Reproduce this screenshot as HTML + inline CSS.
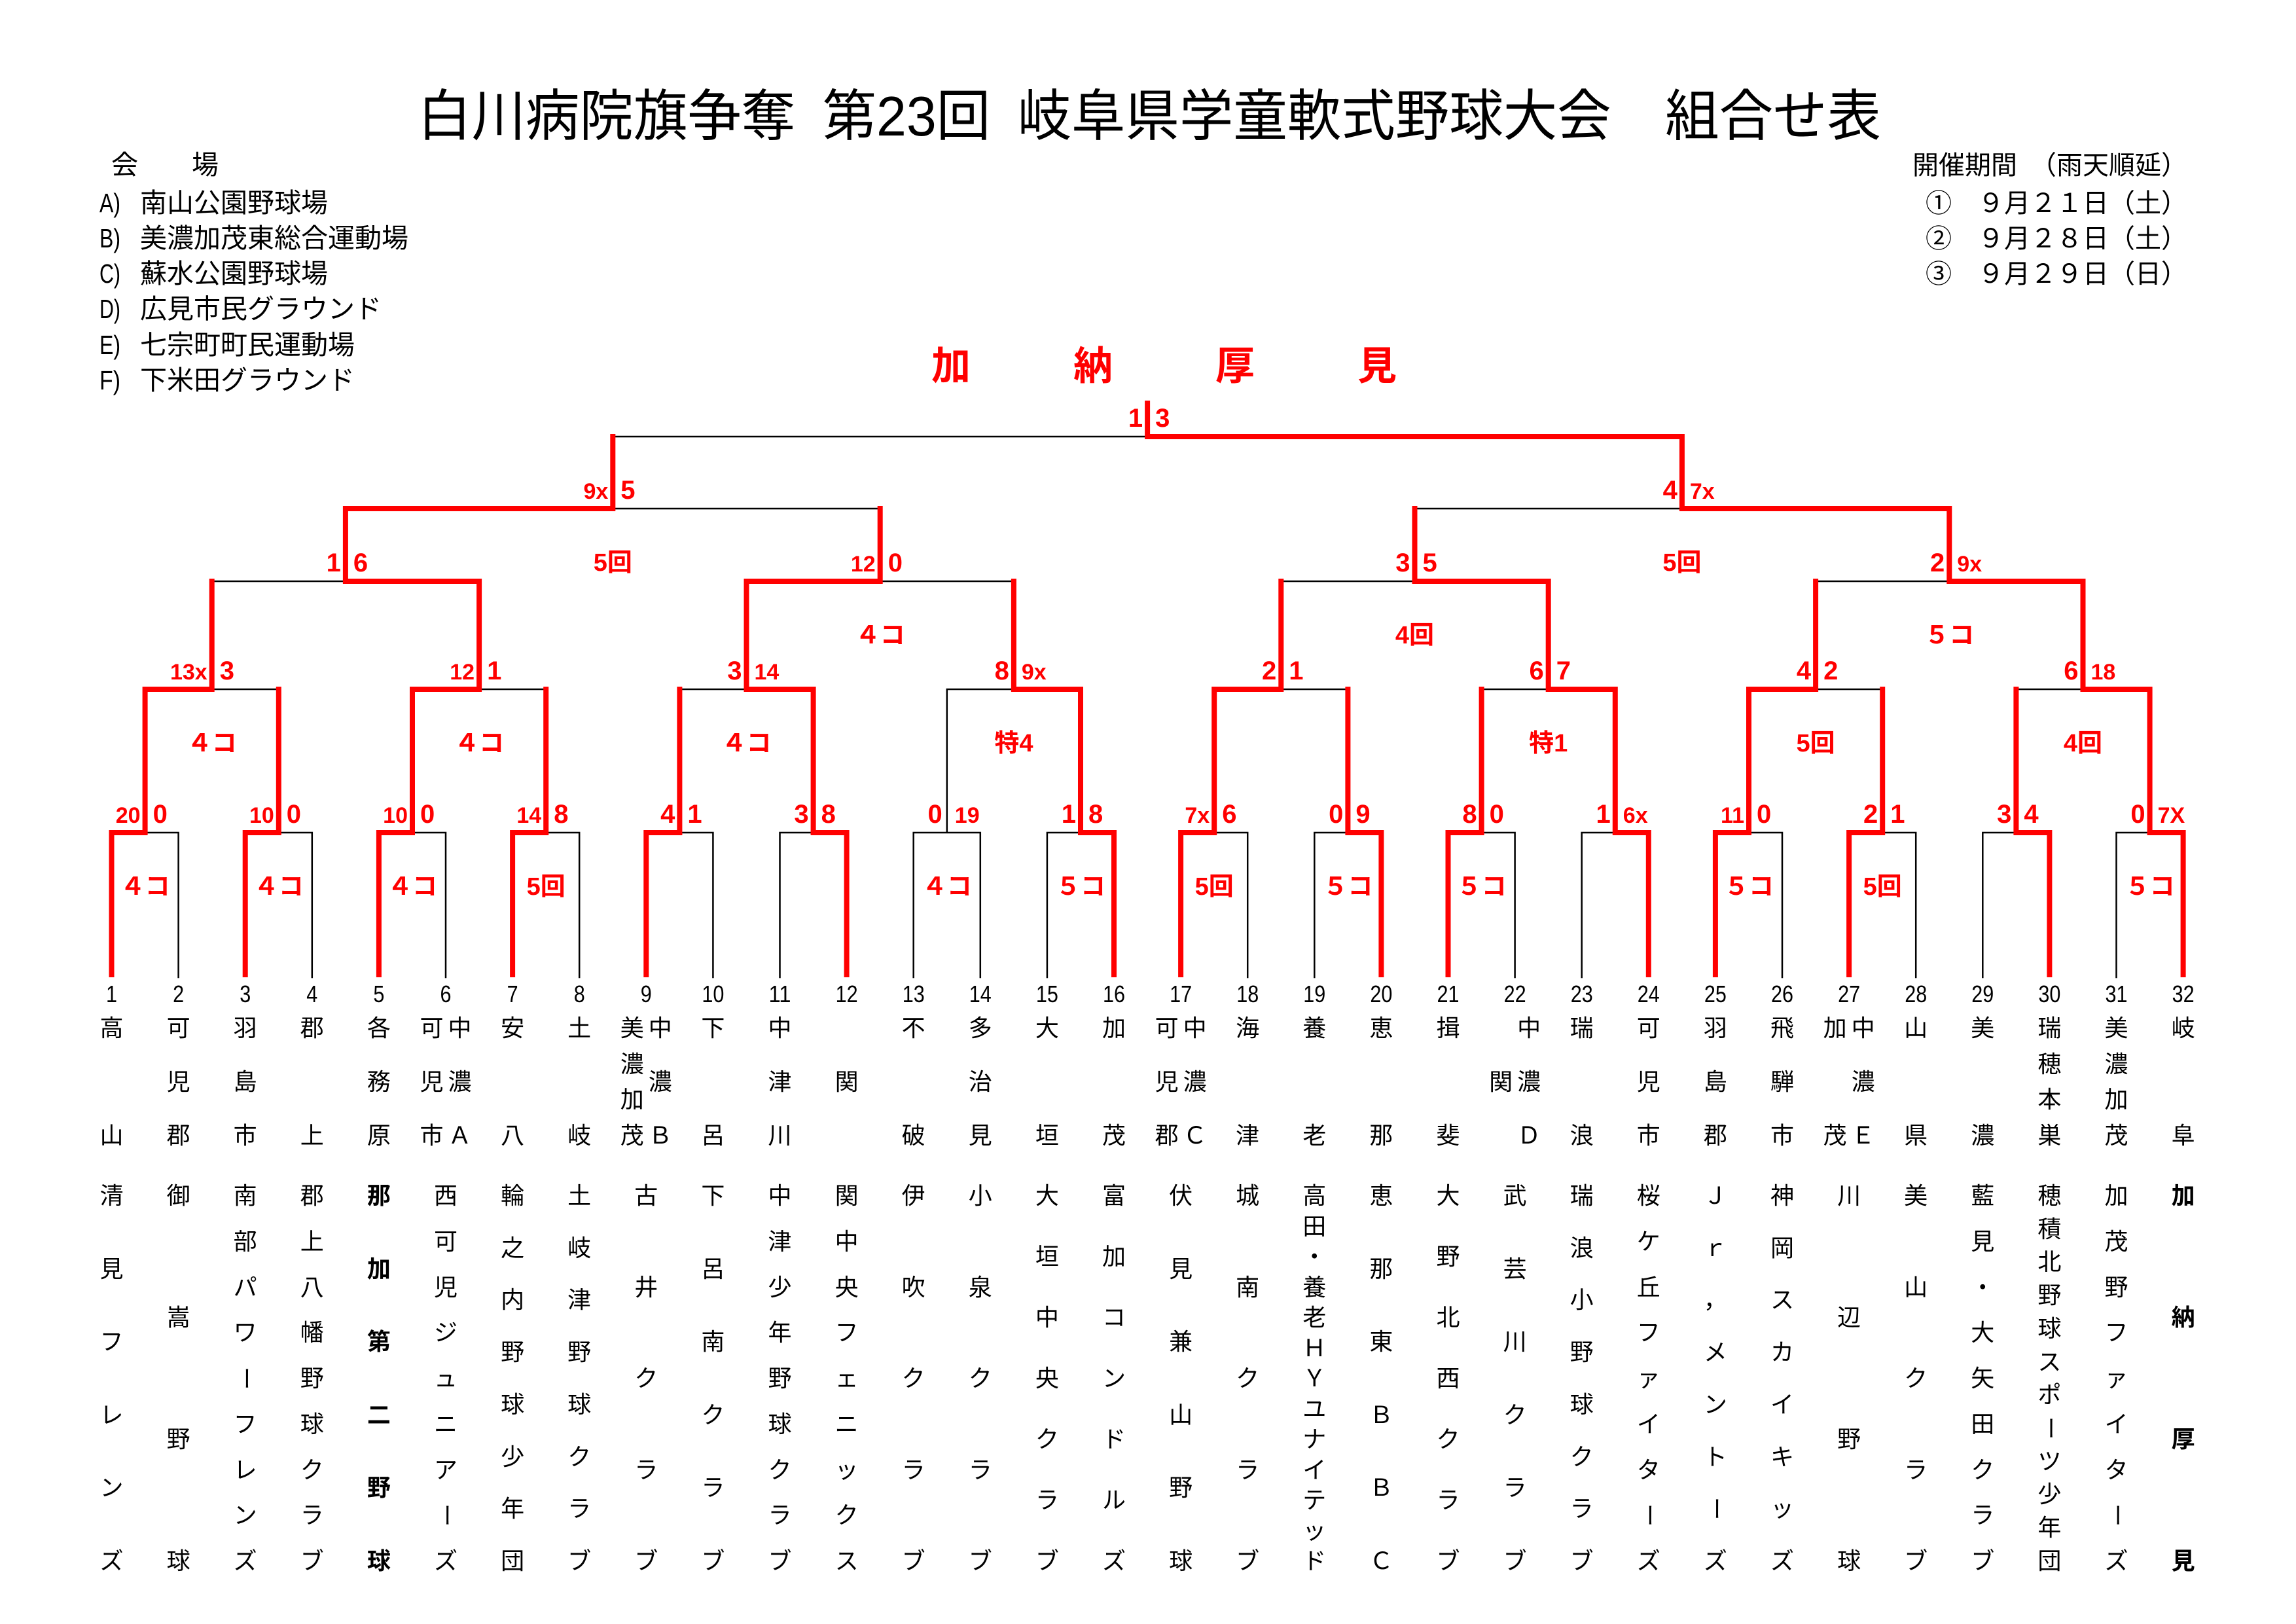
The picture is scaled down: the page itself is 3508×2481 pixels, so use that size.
<!DOCTYPE html>
<html lang="ja">
<head>
<meta charset="utf-8">
<style>
body{margin:0;background:#fff;}
#p{position:relative;width:3508px;height:2481px;overflow:hidden;background:#fff;font-family:"Liberation Sans","Noto Sans CJK JP",sans-serif;}
svg{position:absolute;left:0;top:0;}
svg text{font-family:"Liberation Sans","Noto Sans CJK JP",sans-serif;white-space:pre;}
.s{font-weight:bold;font-size:40px;fill:#f00}
.s2{font-weight:bold;font-size:34px;fill:#f00}
.e{text-anchor:end}
.lb{font-weight:bold;font-size:38px;fill:#f00;text-anchor:middle}
.num{font-size:36px;fill:#000}
.ch{font-weight:bold;font-size:60px;fill:#f00;text-anchor:middle}
.hd{font-size:41px;fill:#000}
.dt{font-size:40px;fill:#000}
.c{position:absolute;width:40px;display:flex;flex-direction:column;justify-content:space-between;align-items:center;font-size:36px;line-height:36px;color:#000;font-family:"Liberation Sans","Noto Sans CJK JP",sans-serif;}
.c span{display:block;height:36px;width:40px;text-align:center;}
.c span.v{writing-mode:vertical-rl;width:36px;}
.t{top:1553px;height:200px}
.n{top:1809px;height:594px}
.m{justify-content:center}
.b{font-weight:bold}
</style>
</head>
<body>
<div id="p">
<svg width="3508" height="2481" viewBox="0 0 3508 2481" xmlns="http://www.w3.org/2000/svg">
<!-- title -->
<text x="638" y="207" font-size="85" textLength="2236" lengthAdjust="spacingAndGlyphs">白川病院旗争奪&#x2002;第23回&#x2002;岐阜県学童軟式野球大会　組合せ表</text>

<!-- venues -->
<text class="hd" x="170" y="266">会　　場</text>
<text class="hd" x="152" y="324" textLength="32" lengthAdjust="spacingAndGlyphs">A)</text><text class="hd" x="214" y="324">南山公園野球場</text>
<text class="hd" x="152" y="378" textLength="32" lengthAdjust="spacingAndGlyphs">B)</text><text class="hd" x="214" y="378">美濃加茂東総合運動場</text>
<text class="hd" x="152" y="432" textLength="32" lengthAdjust="spacingAndGlyphs">C)</text><text class="hd" x="214" y="432">蘇水公園野球場</text>
<text class="hd" x="152" y="486" textLength="32" lengthAdjust="spacingAndGlyphs">D)</text><text class="hd" x="214" y="486">広見市民グラウンド</text>
<text class="hd" x="152" y="541" textLength="32" lengthAdjust="spacingAndGlyphs">E)</text><text class="hd" x="214" y="541">七宗町町民運動場</text>
<text class="hd" x="152" y="595" textLength="32" lengthAdjust="spacingAndGlyphs">F)</text><text class="hd" x="214" y="595">下米田グラウンド</text>

<!-- dates -->
<text class="dt" x="2922" y="266">開催期間　（雨天順延）</text>
<text class="dt" x="2942" y="324">①　９月２１日（土）</text>
<text class="dt" x="2942" y="378">②　９月２８日（土）</text>
<text class="dt" x="2942" y="432">③　９月２９日（日）</text>

<!-- champion -->
<text class="ch" x="1453" y="580">加</text>
<text class="ch" x="1670" y="580">納</text>
<text class="ch" x="1887" y="580">厚</text>
<text class="ch" x="2104" y="580">見</text>

<!-- black lines -->
<path fill="none" stroke="#000" stroke-width="2.5" stroke-linecap="square" d="
M272.6 1493V1272M476.8 1493V1272M681 1493V1272M885.2 1493V1272M1089.4 1493V1272M1191.5 1493V1272M1395.7 1493V1272M1497.8 1493V1272M1599.9 1493V1272M1906.2 1493V1272M2008.3 1493V1272M2314.6 1493V1272M2416.7 1493V1272M2723 1493V1272M2927.2 1493V1272M3029.3 1493V1272M3233.5 1493V1272
M221.6 1272H272.6M425.8 1272H476.8M630 1272H681M834.2 1272H885.2M1038.4 1272H1089.4M1191.5 1272H1242.6M1395.7 1272H1497.8M1599.9 1272H1651M1855.2 1272H1906.2M2008.3 1272H2059.4M2263.6 1272H2314.6M2416.7 1272H2467.8M2672 1272H2723M2876.2 1272H2927.2M3029.3 1272H3080.4M3233.5 1272H3284.6
M1446.8 1272V1053
M323.7 1053H425.8M732.1 1053H834.2M1038.4 1053H1140.5M1446.8 1053H1548.9M1957.3 1053H2059.4M2263.6 1053H2365.7M2774.1 1053H2876.2M3080.4 1053H3182.5
M323.7 888H527.9M1344.7 888H1548.9M1957.3 888H2161.5M2774.1 888H2978.3
M936.3 777H1344.7M2161.5 777H2569.9
M936.3 667H1753.1"/>

<!-- red lines -->
<path fill="none" stroke="#f00" stroke-width="8" stroke-linecap="square" d="
M170.5 1489V1272M374.7 1489V1272M578.9 1489V1272M783.1 1489V1272M987.3 1489V1272M1293.6 1489V1272M1702 1489V1272M1804.1 1489V1272M2110.4 1489V1272M2212.5 1489V1272M2518.8 1489V1272M2620.9 1489V1272M2825.1 1489V1272M3131.4 1489V1272M3335.6 1489V1272
M170.5 1272H221.6M374.7 1272H425.8M578.9 1272H630M783.1 1272H834.2M987.3 1272H1038.4M1242.6 1272H1293.6M1651 1272H1702M1804.1 1272H1855.2M2059.4 1272H2110.4M2212.5 1272H2263.6M2467.8 1272H2518.8M2620.9 1272H2672M2825.1 1272H2876.2M3080.4 1272H3131.4M3284.6 1272H3335.6
M221.6 1272V1053M425.8 1272V1053M630 1272V1053M834.2 1272V1053M1038.4 1272V1053M1242.6 1272V1053M1651 1272V1053M1855.2 1272V1053M2059.4 1272V1053M2263.6 1272V1053M2467.8 1272V1053M2672 1272V1053M2876.2 1272V1053M3080.4 1272V1053M3284.6 1272V1053
M221.6 1053H323.7M630 1053H732.1M1140.5 1053H1242.6M1548.9 1053H1651M1855.2 1053H1957.3M2365.7 1053H2467.8M2672 1053H2774.1M3182.5 1053H3284.6
M323.7 1053V888M732.1 1053V888M1140.5 1053V888M1548.9 1053V888M1957.3 1053V888M2365.7 1053V888M2774.1 1053V888M3182.5 1053V888
M527.9 888H732.1M1140.5 888H1344.7M2161.5 888H2365.7M2978.3 888H3182.5
M527.9 888V777M1344.7 888V777M2161.5 888V777M2978.3 888V777
M527.9 777H936.3M2569.9 777H2978.3
M936.3 777V667M2569.9 777V667
M1753.1 667H2569.9M1753.1 667V616"/>

<!-- round 1 scores -->
<text class="s2 e" x="214.6" y="1257">20</text><text class="s" x="233.6" y="1257">0</text>
<text class="s2 e" x="418.8" y="1257">10</text><text class="s" x="437.8" y="1257">0</text>
<text class="s2 e" x="623" y="1257">10</text><text class="s" x="642" y="1257">0</text>
<text class="s2 e" x="827.2" y="1257">14</text><text class="s" x="846.2" y="1257">8</text>
<text class="s e" x="1031.4" y="1257">4</text><text class="s" x="1050.4" y="1257">1</text>
<text class="s e" x="1235.6" y="1257">3</text><text class="s" x="1254.6" y="1257">8</text>
<text class="s e" x="1439.8" y="1257">0</text><text class="s2" x="1458.8" y="1257">19</text>
<text class="s e" x="1644" y="1257">1</text><text class="s" x="1663" y="1257">8</text>
<text class="s2 e" x="1848.2" y="1257">7x</text><text class="s" x="1867.2" y="1257">6</text>
<text class="s e" x="2052.4" y="1257">0</text><text class="s" x="2071.4" y="1257">9</text>
<text class="s e" x="2256.6" y="1257">8</text><text class="s" x="2275.6" y="1257">0</text>
<text class="s e" x="2460.8" y="1257">1</text><text class="s2" x="2479.8" y="1257">6x</text>
<text class="s2 e" x="2665" y="1257">11</text><text class="s" x="2684" y="1257">0</text>
<text class="s e" x="2869.2" y="1257">2</text><text class="s" x="2888.2" y="1257">1</text>
<text class="s e" x="3073.4" y="1257">3</text><text class="s" x="3092.4" y="1257">4</text>
<text class="s e" x="3277.6" y="1257">0</text><text class="s2" x="3296.6" y="1257">7X</text>

<!-- round 2 scores -->
<text class="s2 e" x="316.7" y="1038">13x</text><text class="s" x="335.7" y="1038">3</text>
<text class="s2 e" x="725.1" y="1038">12</text><text class="s" x="744.1" y="1038">1</text>
<text class="s e" x="1133.5" y="1038">3</text><text class="s2" x="1152.5" y="1038">14</text>
<text class="s e" x="1541.9" y="1038">8</text><text class="s2" x="1560.9" y="1038">9x</text>
<text class="s e" x="1950.3" y="1038">2</text><text class="s" x="1969.3" y="1038">1</text>
<text class="s e" x="2358.7" y="1038">6</text><text class="s" x="2377.7" y="1038">7</text>
<text class="s e" x="2767.1" y="1038">4</text><text class="s" x="2786.1" y="1038">2</text>
<text class="s e" x="3175.5" y="1038">6</text><text class="s2" x="3194.5" y="1038">18</text>

<!-- round 3 scores -->
<text class="s e" x="520.9" y="873">1</text><text class="s" x="539.9" y="873">6</text>
<text class="s2 e" x="1337.7" y="873">12</text><text class="s" x="1356.7" y="873">0</text>
<text class="s e" x="2154.5" y="873">3</text><text class="s" x="2173.5" y="873">5</text>
<text class="s e" x="2971.3" y="873">2</text><text class="s2" x="2990.3" y="873">9x</text>

<!-- round 4 scores -->
<text class="s2 e" x="929.3" y="762">9x</text><text class="s" x="948.3" y="762">5</text>
<text class="s e" x="2562.9" y="762">4</text><text class="s2" x="2581.9" y="762">7x</text>

<!-- final -->
<text class="s e" x="1746.1" y="652">1</text><text class="s" x="1765.1" y="652">3</text>

<!-- labels round 1 -->
<text class="lb" x="221.6" y="1367">４コ</text>
<text class="lb" x="425.8" y="1367">４コ</text>
<text class="lb" x="630" y="1367">４コ</text>
<text class="lb" x="834.2" y="1367">5回</text>
<text class="lb" x="1446.8" y="1367">４コ</text>
<text class="lb" x="1651" y="1367">５コ</text>
<text class="lb" x="1855.2" y="1367">5回</text>
<text class="lb" x="2059.4" y="1367">５コ</text>
<text class="lb" x="2263.6" y="1367">５コ</text>
<text class="lb" x="2672" y="1367">５コ</text>
<text class="lb" x="2876.2" y="1367">5回</text>
<text class="lb" x="3284.6" y="1367">５コ</text>
<!-- labels round 2 -->
<text class="lb" x="323.7" y="1148">４コ</text>
<text class="lb" x="732.1" y="1148">４コ</text>
<text class="lb" x="1140.5" y="1148">４コ</text>
<text class="lb" x="1548.9" y="1148">特4</text>
<text class="lb" x="2365.7" y="1148">特1</text>
<text class="lb" x="2774.1" y="1148">5回</text>
<text class="lb" x="3182.5" y="1148">4回</text>
<!-- labels round 3 -->
<text class="lb" x="1344.7" y="983">４コ</text>
<text class="lb" x="2161.5" y="983">4回</text>
<text class="lb" x="2978.3" y="983">５コ</text>
<!-- labels round 4 -->
<text class="lb" x="936.3" y="872">5回</text>
<text class="lb" x="2569.9" y="872">5回</text>

<!-- team numbers -->
<text class="num" x="162" y="1531" textLength="17" lengthAdjust="spacingAndGlyphs">1</text>
<text class="num" x="264.1" y="1531" textLength="17" lengthAdjust="spacingAndGlyphs">2</text>
<text class="num" x="366.2" y="1531" textLength="17" lengthAdjust="spacingAndGlyphs">3</text>
<text class="num" x="468.3" y="1531" textLength="17" lengthAdjust="spacingAndGlyphs">4</text>
<text class="num" x="570.4" y="1531" textLength="17" lengthAdjust="spacingAndGlyphs">5</text>
<text class="num" x="672.5" y="1531" textLength="17" lengthAdjust="spacingAndGlyphs">6</text>
<text class="num" x="774.6" y="1531" textLength="17" lengthAdjust="spacingAndGlyphs">7</text>
<text class="num" x="876.7" y="1531" textLength="17" lengthAdjust="spacingAndGlyphs">8</text>
<text class="num" x="978.8" y="1531" textLength="17" lengthAdjust="spacingAndGlyphs">9</text>
<text class="num" x="1072.4" y="1531" textLength="34" lengthAdjust="spacingAndGlyphs">10</text>
<text class="num" x="1174.5" y="1531" textLength="34" lengthAdjust="spacingAndGlyphs">11</text>
<text class="num" x="1276.6" y="1531" textLength="34" lengthAdjust="spacingAndGlyphs">12</text>
<text class="num" x="1378.7" y="1531" textLength="34" lengthAdjust="spacingAndGlyphs">13</text>
<text class="num" x="1480.8" y="1531" textLength="34" lengthAdjust="spacingAndGlyphs">14</text>
<text class="num" x="1582.9" y="1531" textLength="34" lengthAdjust="spacingAndGlyphs">15</text>
<text class="num" x="1685" y="1531" textLength="34" lengthAdjust="spacingAndGlyphs">16</text>
<text class="num" x="1787.1" y="1531" textLength="34" lengthAdjust="spacingAndGlyphs">17</text>
<text class="num" x="1889.2" y="1531" textLength="34" lengthAdjust="spacingAndGlyphs">18</text>
<text class="num" x="1991.3" y="1531" textLength="34" lengthAdjust="spacingAndGlyphs">19</text>
<text class="num" x="2093.4" y="1531" textLength="34" lengthAdjust="spacingAndGlyphs">20</text>
<text class="num" x="2195.5" y="1531" textLength="34" lengthAdjust="spacingAndGlyphs">21</text>
<text class="num" x="2297.6" y="1531" textLength="34" lengthAdjust="spacingAndGlyphs">22</text>
<text class="num" x="2399.7" y="1531" textLength="34" lengthAdjust="spacingAndGlyphs">23</text>
<text class="num" x="2501.8" y="1531" textLength="34" lengthAdjust="spacingAndGlyphs">24</text>
<text class="num" x="2603.9" y="1531" textLength="34" lengthAdjust="spacingAndGlyphs">25</text>
<text class="num" x="2706" y="1531" textLength="34" lengthAdjust="spacingAndGlyphs">26</text>
<text class="num" x="2808.1" y="1531" textLength="34" lengthAdjust="spacingAndGlyphs">27</text>
<text class="num" x="2910.2" y="1531" textLength="34" lengthAdjust="spacingAndGlyphs">28</text>
<text class="num" x="3012.3" y="1531" textLength="34" lengthAdjust="spacingAndGlyphs">29</text>
<text class="num" x="3114.4" y="1531" textLength="34" lengthAdjust="spacingAndGlyphs">30</text>
<text class="num" x="3216.5" y="1531" textLength="34" lengthAdjust="spacingAndGlyphs">31</text>
<text class="num" x="3318.6" y="1531" textLength="34" lengthAdjust="spacingAndGlyphs">32</text>
</svg>

<!-- Team 1 -->
<div class="c t" style="left:150.5px"><span>高</span><span>山</span></div>
<div class="c n" style="left:150.5px"><span>清</span><span>見</span><span>フ</span><span>レ</span><span>ン</span><span>ズ</span></div>
<!-- Team 2 -->
<div class="c t" style="left:252.6px"><span>可</span><span>児</span><span>郡</span></div>
<div class="c n" style="left:252.6px"><span>御</span><span>嵩</span><span>野</span><span>球</span></div>
<!-- Team 3 -->
<div class="c t" style="left:354.7px"><span>羽</span><span>島</span><span>市</span></div>
<div class="c n" style="left:354.7px"><span>南</span><span>部</span><span>パ</span><span>ワ</span><span class="v">ー</span><span>フ</span><span>レ</span><span>ン</span><span>ズ</span></div>
<!-- Team 4 -->
<div class="c t" style="left:456.8px"><span>郡</span><span>上</span></div>
<div class="c n" style="left:456.8px"><span>郡</span><span>上</span><span>八</span><span>幡</span><span>野</span><span>球</span><span>ク</span><span>ラ</span><span>ブ</span></div>
<!-- Team 5 -->
<div class="c t" style="left:558.9px"><span>各</span><span>務</span><span>原</span></div>
<div class="c n b" style="left:558.9px"><span>那</span><span>加</span><span>第</span><span>二</span><span>野</span><span>球</span></div>
<!-- Team 6 -->
<div class="c t" style="left:639.5px"><span>可</span><span>児</span><span>市</span></div>
<div class="c t" style="left:682.5px"><span>中</span><span>濃</span><span>Ａ</span></div>
<div class="c n" style="left:661px"><span>西</span><span>可</span><span>児</span><span>ジ</span><span>ュ</span><span>ニ</span><span>ア</span><span class="v">ー</span><span>ズ</span></div>
<!-- Team 7 -->
<div class="c t" style="left:763.1px"><span>安</span><span>八</span></div>
<div class="c n" style="left:763.1px"><span>輪</span><span>之</span><span>内</span><span>野</span><span>球</span><span>少</span><span>年</span><span>団</span></div>
<!-- Team 8 -->
<div class="c t" style="left:865.2px"><span>土</span><span>岐</span></div>
<div class="c n" style="left:865.2px"><span>土</span><span>岐</span><span>津</span><span>野</span><span>球</span><span>ク</span><span>ラ</span><span>ブ</span></div>
<!-- Team 9 -->
<div class="c t" style="left:945.8px"><span>美</span><span>濃</span><span>加</span><span>茂</span></div>
<div class="c t" style="left:988.8px"><span>中</span><span>濃</span><span>Ｂ</span></div>
<div class="c n" style="left:967.3px"><span>古</span><span>井</span><span>ク</span><span>ラ</span><span>ブ</span></div>
<!-- Team 10 -->
<div class="c t" style="left:1069.4px"><span>下</span><span>呂</span></div>
<div class="c n" style="left:1069.4px"><span>下</span><span>呂</span><span>南</span><span>ク</span><span>ラ</span><span>ブ</span></div>
<!-- Team 11 -->
<div class="c t" style="left:1171.5px"><span>中</span><span>津</span><span>川</span></div>
<div class="c n" style="left:1171.5px"><span>中</span><span>津</span><span>少</span><span>年</span><span>野</span><span>球</span><span>ク</span><span>ラ</span><span>ブ</span></div>
<!-- Team 12 -->
<div class="c t m" style="left:1273.6px"><span>関</span></div>
<div class="c n" style="left:1273.6px"><span>関</span><span>中</span><span>央</span><span>フ</span><span>ェ</span><span>ニ</span><span>ッ</span><span>ク</span><span>ス</span></div>
<!-- Team 13 -->
<div class="c t" style="left:1375.7px"><span>不</span><span>破</span></div>
<div class="c n" style="left:1375.7px"><span>伊</span><span>吹</span><span>ク</span><span>ラ</span><span>ブ</span></div>
<!-- Team 14 -->
<div class="c t" style="left:1477.8px"><span>多</span><span>治</span><span>見</span></div>
<div class="c n" style="left:1477.8px"><span>小</span><span>泉</span><span>ク</span><span>ラ</span><span>ブ</span></div>
<!-- Team 15 -->
<div class="c t" style="left:1579.9px"><span>大</span><span>垣</span></div>
<div class="c n" style="left:1579.9px"><span>大</span><span>垣</span><span>中</span><span>央</span><span>ク</span><span>ラ</span><span>ブ</span></div>
<!-- Team 16 -->
<div class="c t" style="left:1682px"><span>加</span><span>茂</span></div>
<div class="c n" style="left:1682px"><span>富</span><span>加</span><span>コ</span><span>ン</span><span>ド</span><span>ル</span><span>ズ</span></div>
<!-- Team 17 -->
<div class="c t" style="left:1762.6px"><span>可</span><span>児</span><span>郡</span></div>
<div class="c t" style="left:1805.6px"><span>中</span><span>濃</span><span>Ｃ</span></div>
<div class="c n" style="left:1784.1px"><span>伏</span><span>見</span><span>兼</span><span>山</span><span>野</span><span>球</span></div>
<!-- Team 18 -->
<div class="c t" style="left:1886.2px"><span>海</span><span>津</span></div>
<div class="c n" style="left:1886.2px"><span>城</span><span>南</span><span>ク</span><span>ラ</span><span>ブ</span></div>
<!-- Team 19 -->
<div class="c t" style="left:1988.3px"><span>養</span><span>老</span></div>
<div class="c n" style="left:1988.3px"><span>高</span><span>田</span><span>・</span><span>養</span><span>老</span><span>Ｈ</span><span>Ｙ</span><span>ユ</span><span>ナ</span><span>イ</span><span>テ</span><span>ッ</span><span>ド</span></div>
<!-- Team 20 -->
<div class="c t" style="left:2090.4px"><span>恵</span><span>那</span></div>
<div class="c n" style="left:2090.4px"><span>恵</span><span>那</span><span>東</span><span>Ｂ</span><span>Ｂ</span><span>Ｃ</span></div>
<!-- Team 21 -->
<div class="c t" style="left:2192.5px"><span>揖</span><span>斐</span></div>
<div class="c n" style="left:2192.5px"><span>大</span><span>野</span><span>北</span><span>西</span><span>ク</span><span>ラ</span><span>ブ</span></div>
<!-- Team 22 -->
<div class="c t m" style="left:2273.1px"><span>関</span></div>
<div class="c t" style="left:2316.1px"><span>中</span><span>濃</span><span>Ｄ</span></div>
<div class="c n" style="left:2294.6px"><span>武</span><span>芸</span><span>川</span><span>ク</span><span>ラ</span><span>ブ</span></div>
<!-- Team 23 -->
<div class="c t" style="left:2396.7px"><span>瑞</span><span>浪</span></div>
<div class="c n" style="left:2396.7px"><span>瑞</span><span>浪</span><span>小</span><span>野</span><span>球</span><span>ク</span><span>ラ</span><span>ブ</span></div>
<!-- Team 24 -->
<div class="c t" style="left:2498.8px"><span>可</span><span>児</span><span>市</span></div>
<div class="c n" style="left:2498.8px"><span>桜</span><span>ケ</span><span>丘</span><span>フ</span><span>ァ</span><span>イ</span><span>タ</span><span class="v">ー</span><span>ズ</span></div>
<!-- Team 25 -->
<div class="c t" style="left:2600.9px"><span>羽</span><span>島</span><span>郡</span></div>
<div class="c n" style="left:2600.9px"><span>Ｊ</span><span>ｒ</span><span>，</span><span>メ</span><span>ン</span><span>ト</span><span class="v">ー</span><span>ズ</span></div>
<!-- Team 26 -->
<div class="c t" style="left:2703px"><span>飛</span><span>騨</span><span>市</span></div>
<div class="c n" style="left:2703px"><span>神</span><span>岡</span><span>ス</span><span>カ</span><span>イ</span><span>キ</span><span>ッ</span><span>ズ</span></div>
<!-- Team 27 -->
<div class="c t" style="left:2783.6px"><span>加</span><span>茂</span></div>
<div class="c t" style="left:2826.6px"><span>中</span><span>濃</span><span>Ｅ</span></div>
<div class="c n" style="left:2805.1px"><span>川</span><span>辺</span><span>野</span><span>球</span></div>
<!-- Team 28 -->
<div class="c t" style="left:2907.2px"><span>山</span><span>県</span></div>
<div class="c n" style="left:2907.2px"><span>美</span><span>山</span><span>ク</span><span>ラ</span><span>ブ</span></div>
<!-- Team 29 -->
<div class="c t" style="left:3009.3px"><span>美</span><span>濃</span></div>
<div class="c n" style="left:3009.3px"><span>藍</span><span>見</span><span>・</span><span>大</span><span>矢</span><span>田</span><span>ク</span><span>ラ</span><span>ブ</span></div>
<!-- Team 30 -->
<div class="c t" style="left:3111.4px"><span>瑞</span><span>穂</span><span>本</span><span>巣</span></div>
<div class="c n" style="left:3111.4px"><span>穂</span><span>積</span><span>北</span><span>野</span><span>球</span><span>ス</span><span>ポ</span><span class="v">ー</span><span>ツ</span><span>少</span><span>年</span><span>団</span></div>
<!-- Team 31 -->
<div class="c t" style="left:3213.5px"><span>美</span><span>濃</span><span>加</span><span>茂</span></div>
<div class="c n" style="left:3213.5px"><span>加</span><span>茂</span><span>野</span><span>フ</span><span>ァ</span><span>イ</span><span>タ</span><span class="v">ー</span><span>ズ</span></div>
<!-- Team 32 -->
<div class="c t" style="left:3315.6px"><span>岐</span><span>阜</span></div>
<div class="c n b" style="left:3315.6px"><span>加</span><span>納</span><span>厚</span><span>見</span></div>
</div>
</body>
</html>
